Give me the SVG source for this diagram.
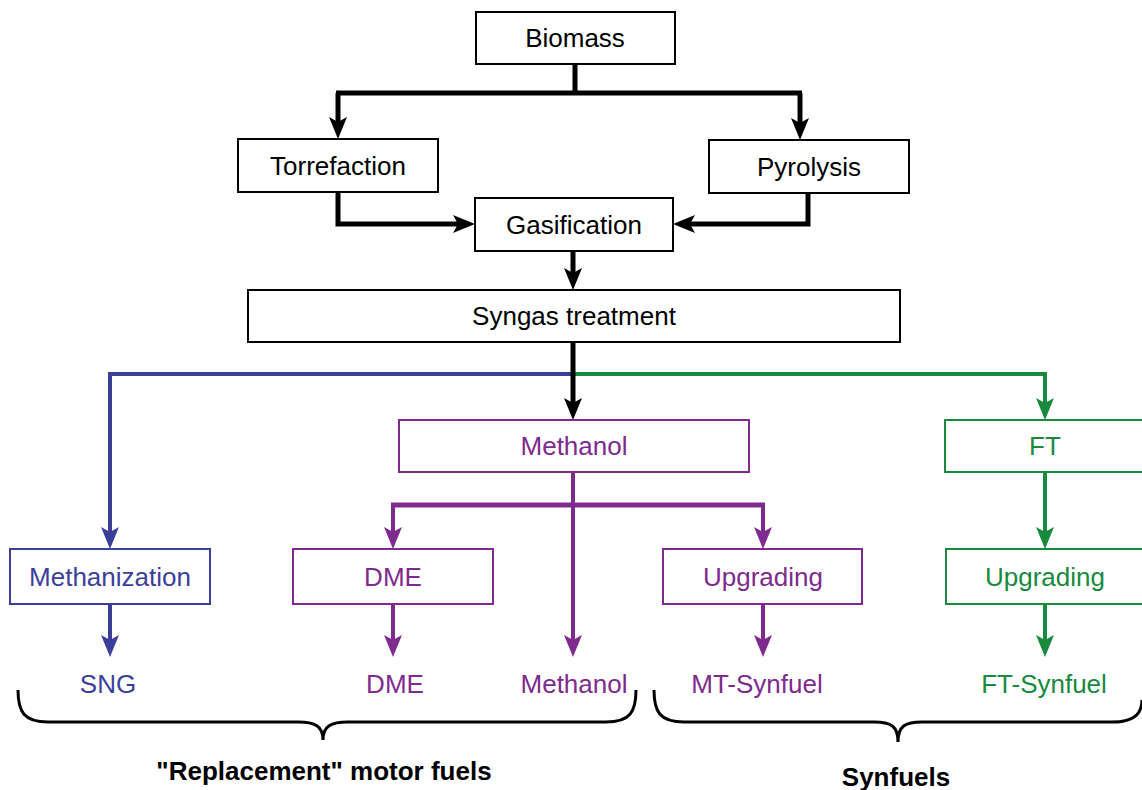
<svg xmlns="http://www.w3.org/2000/svg" width="1142" height="790" viewBox="0 0 1142 790">
<style>
.box{fill:#fff;stroke-width:2}
.k{stroke:#000}.b{stroke:#3c3f9a}.p{stroke:#7e2a8e}.g{stroke:#188a3e}
text{font-family:"Liberation Sans",Arial,sans-serif;font-size:26px;text-anchor:middle}
.tk{fill:#000}.tb{fill:#3c3f9a}.tp{fill:#7e2a8e}.tg{fill:#188a3e}
.c{fill:none;stroke-linejoin:miter}
.ck{stroke:#000;stroke-width:5;marker-end:url(#ak)}
.cb{stroke:#3c3f9a;stroke-width:4;marker-end:url(#ab)}
.cp{stroke:#7e2a8e;stroke-width:4;marker-end:url(#ap)}
.cg{stroke:#188a3e;stroke-width:4;marker-end:url(#ag)}
.bold{font-weight:bold}
.brace{fill:none;stroke:#000;stroke-width:3}
</style>
<defs>
<marker id="ak" viewBox="0 0 22 18" markerWidth="22" markerHeight="18" refX="14" refY="9" orient="auto" markerUnits="userSpaceOnUse"><path d="M0,0 L22,9 L0,18 L5,9 z" fill="#000"/></marker>
<marker id="ab" viewBox="0 0 22 18" markerWidth="22" markerHeight="18" refX="14" refY="9" orient="auto" markerUnits="userSpaceOnUse"><path d="M0,0 L22,9 L0,18 L5,9 z" fill="#3c3f9a"/></marker>
<marker id="ap" viewBox="0 0 22 18" markerWidth="22" markerHeight="18" refX="14" refY="9" orient="auto" markerUnits="userSpaceOnUse"><path d="M0,0 L22,9 L0,18 L5,9 z" fill="#7e2a8e"/></marker>
<marker id="ag" viewBox="0 0 22 18" markerWidth="22" markerHeight="18" refX="14" refY="9" orient="auto" markerUnits="userSpaceOnUse"><path d="M0,0 L22,9 L0,18 L5,9 z" fill="#188a3e"/></marker>
</defs>
<rect width="1142" height="790" fill="#fff"/>
<g id="connectors">
<path class="c cb" d="M573,374 H110 V541"/>
<path class="c cg" d="M573,374 H1045 V412"/>
<path class="c" stroke="#000" stroke-width="5" d="M575,64 V93 M336,93 H802"/>
<path class="c ck" d="M338,93 V131"/>
<path class="c ck" d="M800,93 V132"/>
<path class="c ck" d="M338,192 V224 H467"/>
<path class="c ck" d="M808,193 V224 H681"/>
<path class="c ck" d="M573,251 V282"/>
<path class="c ck" d="M573,342 V412"/>
<path class="c cp" d="M573,472 V649"/>
<path class="c" stroke="#7e2a8e" stroke-width="5" d="M391,505 H765"/>
<path class="c cp" d="M393,505 V541"/>
<path class="c cp" d="M763,505 V541"/>
<path class="c cb" d="M110,604 V649"/>
<path class="c cp" d="M393,604 V649"/>
<path class="c cp" d="M763,604 V649"/>
<path class="c cg" d="M1045,472 V541"/>
<path class="c cg" d="M1045,604 V649"/>
</g>
<g id="biomass"><rect class="box k" x="476" y="12" width="199" height="52"/><text class="tk" x="575" y="47">Biomass</text></g>
<g id="torrefaction"><rect class="box k" x="238" y="139" width="200" height="53"/><text class="tk" x="338" y="175">Torrefaction</text></g>
<g id="pyrolysis"><rect class="box k" x="709" y="140" width="200" height="53"/><text class="tk" x="809" y="176">Pyrolysis</text></g>
<g id="gasification"><rect class="box k" x="475" y="198" width="198" height="53"/><text class="tk" x="574" y="234">Gasification</text></g>
<g id="syngas"><rect class="box k" x="248" y="290" width="652" height="52"/><text class="tk" x="574" y="325">Syngas treatment</text></g>
<g id="methanol"><rect class="box p" x="399" y="420" width="350" height="52"/><text class="tp" x="574" y="455">Methanol</text></g>
<g id="ft"><rect class="box g" x="945" y="420" width="210" height="52"/><text class="tg" x="1045" y="455">FT</text></g>
<g id="methanization"><rect class="box b" x="10" y="549" width="200" height="55"/><text class="tb" x="110" y="586">Methanization</text></g>
<g id="dme"><rect class="box p" x="293" y="549" width="200" height="55"/><text class="tp" x="393" y="586">DME</text></g>
<g id="upgrading-mt"><rect class="box p" x="663" y="549" width="199" height="55"/><text class="tp" x="763" y="586">Upgrading</text></g>
<g id="upgrading-ft"><rect class="box g" x="946" y="549" width="210" height="55"/><text class="tg" x="1045" y="586">Upgrading</text></g>
<g id="outputs">
<text class="tb" x="108" y="693">SNG</text>
<text class="tp" x="395" y="693">DME</text>
<text class="tp" x="574" y="693">Methanol</text>
<text class="tp" x="757" y="693">MT-Synfuel</text>
<text class="tg" x="1044" y="693">FT-Synfuel</text>
</g>
<g id="braces">
<path class="brace" d="M18,690 C18,712 24,722 48,722 L298,722 C315,722 323,726 323,740 C323,726 331,722 348,722 L606,722 C630,722 636,712 636,690"/>
<path class="brace" d="M654,690 C654,712 660,722 684,722 L874,722 C891,722 898,726 898,742 C898,726 905,722 922,722 L1112,722 C1136,722 1142,712 1142,700"/>
<text class="tk bold" x="324" y="780">"Replacement" motor fuels</text>
<text class="tk bold" x="896" y="786">Synfuels</text>
</g>
</svg>
